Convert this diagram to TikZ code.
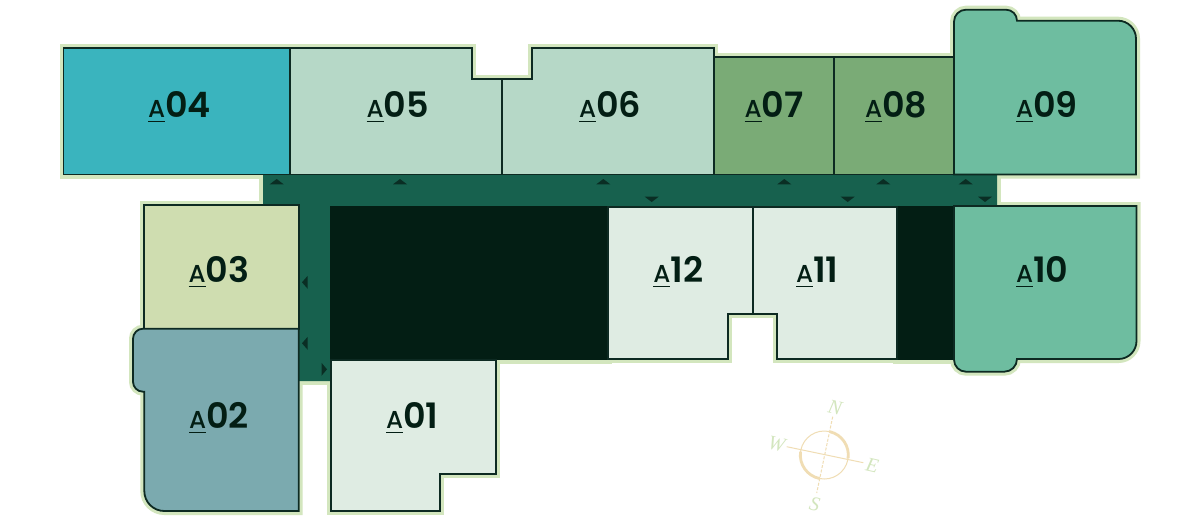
\documentclass[tikz,border=0pt]{standalone}
\usepackage{fontspec}
\setmainfont{Poppins}
\newfontfamily\numfont{Poppins SemiBold}
\newfontfamily\afont{Poppins Medium}
\newfontfamily\compfont{Liberation Serif}[Scale=1]
\definecolor{halo}{HTML}{D3E6BE}
\definecolor{ink}{HTML}{0D2A22}
\definecolor{deep}{HTML}{031E14}
\definecolor{corr}{HTML}{17614E}
\definecolor{ctri}{HTML}{0A2E24}
\definecolor{teal}{HTML}{3AB4BE}
\definecolor{mint}{HTML}{B6D8C7}
\definecolor{moss}{HTML}{7AAB76}
\definecolor{jade}{HTML}{6EBDA0}
\definecolor{sage}{HTML}{CFDDB0}
\definecolor{slate}{HTML}{7BAAAF}
\definecolor{pale}{HTML}{DFECE3}
\definecolor{sand}{HTML}{F0DDB4}
\newsavebox{\unitAbox}
\newcommand{\unitlabel}[1]{\sbox{\unitAbox}{\afont\fontsize{24.5}{25}\selectfont A}\rlap{\rule[-4.6pt]{\wd\unitAbox}{1pt}}\usebox{\unitAbox}{\numfont\fontsize{35}{36}\selectfont #1}}
\newcommand{\pAfour}{(63.5,47.7) -- (290,47.7) -- (290,174.5) -- (63.5,174.5) -- cycle}
\newcommand{\pAfive}{(290,47.7) -- (471.7,47.7) -- (471.7,79.3) -- (502,79.3) -- (502,174.5) -- (290,174.5) -- cycle}
\newcommand{\pAsix}{(502,79.3) -- (532.3,79.3) -- (532.3,47.7) -- (713.7,47.7) -- (713.7,174.5) -- (502,174.5) -- cycle}
\newcommand{\pAseven}{(713.7,57.3) -- (834,57.3) -- (834,174.5) -- (713.7,174.5) -- cycle}
\newcommand{\pAeight}{(834,57.3) -- (954,57.3) -- (954,174.5) -- (834,174.5) -- cycle}
\newcommand{\pAnine}{(954,174.5) -- (954,21.7) arc[start angle=180,end angle=90,radius=12pt] -- (1006,9.7) arc[start angle=90,end angle=0,radius=11pt] -- (1118,20.7) arc[start angle=90,end angle=0,radius=18pt] -- (1136,174.5) -- cycle}
\newcommand{\pAten}{(954,206) -- (1136.5,206) -- (1136.5,341) arc[start angle=0,end angle=-90,radius=18pt] -- (1017,359) arc[start angle=0,end angle=-90,radius=12.7pt] -- (966,371.7) arc[start angle=-90,end angle=-180,radius=12pt] -- cycle}
\newcommand{\pAeleven}{(752.7,207) -- (896.7,207) -- (896.7,359) -- (777.3,359) -- (777.3,313.7) -- (752.7,313.7) -- cycle}
\newcommand{\pAtwelve}{(608.3,207) -- (752.7,207) -- (752.7,313.7) -- (727.7,313.7) -- (727.7,359) -- (608.3,359) -- cycle}
\newcommand{\pAone}{(330.7,360) -- (496,360) -- (496,474) -- (440,474) -- (440,511) -- (330.7,511) -- cycle}
\newcommand{\pAtwo}{(298.7,328.7) -- (143,328.7) arc[start angle=90,end angle=180,radius=10pt] -- (133,381.7) arc[start angle=180,end angle=270,radius=10pt] -- (144.3,391.7) -- (144.3,491) arc[start angle=180,end angle=270,radius=20pt] -- (298.7,511) -- cycle}
\newcommand{\pAthree}{(144.3,205) -- (298.7,205) -- (298.7,328.7) -- (144.3,328.7) -- cycle}
\newcommand{\pCorr}{(263,175) -- (997,175) -- (997,206) -- (330,206) -- (330,381) -- (299,381) -- (299,206) -- (263,206) -- cycle}
\newcommand{\pDarkA}{(330,206) -- (608.3,206) -- (608.3,360) -- (330,360) -- cycle}
\newcommand{\pDarkB}{(896.7,206) -- (955,206) -- (955,359.7) -- (896.7,359.7) -- cycle}
\tikzset{
  x=1pt,y=-1pt,
  haloline/.style={draw=halo,line width=8pt,line join=miter},
  room/.style={draw=ink,line width=1.8pt,line join=miter},
  unit/.style={anchor=base west,inner sep=0pt,outer sep=0pt,text=deep},
  tri/.style={fill=ctri,draw=none},
  compassthin/.style={draw=sand,line width=1pt},
  compassthick/.style={draw=sand,line width=2.8pt},
  compasslabel/.style={text=halo,font=\compfont\itshape\fontsize{20}{20}\selectfont,inner sep=0pt,rotate=-13}
}
\begin{document}
\begin{tikzpicture}
\useasboundingbox (0,0) rectangle (1200,520);
\fill[white] (0,0) rectangle (1200,520);
% halo
\foreach \p in {\pAfour,\pAfive,\pAsix,\pAseven,\pAeight,\pAnine,\pAten,\pAeleven,\pAtwelve,\pAone,\pAtwo,\pAthree,\pCorr,\pDarkA,\pDarkB}{\path[haloline] \p;}
% corridor and dark blocks
\fill[corr] \pCorr;
\fill[deep] \pDarkA;
\fill[deep] \pDarkB;
% rooms
\path[room,fill=teal] \pAfour;
\path[room,fill=mint] \pAfive;
\path[room,fill=mint] \pAsix;
\path[room,fill=moss] \pAseven;
\path[room,fill=moss] \pAeight;
\path[room,fill=jade] \pAnine;
\path[room,fill=jade] \pAten;
\path[room,fill=pale] \pAeleven;
\path[room,fill=pale] \pAtwelve;
\path[room,fill=pale] \pAone;
\path[room,fill=sage] \pAthree;
\path[room,fill=slate] \pAtwo;
% door markers
\foreach \x in {276.7,400,603.3,784.3,883.3,965.7}{\fill[tri] (\x-7,184.3) -- (\x,179) -- (\x+7,184.3) -- cycle;}
\foreach \x in {651.7,847.7,985}{\fill[tri] (\x-7,196.7) -- (\x,202) -- (\x+7,196.7) -- cycle;}
\foreach \y in {282.3,343.3}{\fill[tri] (307.7,\y-6.5) -- (302,\y) -- (307.7,\y+6.5) -- cycle;}
\fill[tri] (321.5,362.8) -- (327,369.3) -- (321.5,375.8) -- cycle;
% labels
\node[unit] (a04) at (148,117.3) {\unitlabel{04}};
\node[unit] (a05) at (366.7,117.3) {\unitlabel{05}};
\node[unit] (a06) at (579,117.3) {\unitlabel{06}};
\node[unit] (a07) at (744.7,117.3) {\unitlabel{07}};
\node[unit] (a08) at (865,117.3) {\unitlabel{08}};
\node[unit] (a09) at (1016,117.3) {\unitlabel{09}};
\node[unit] (a10) at (1016,282) {\unitlabel{10}};
\node[unit] (a11) at (796,282) {\unitlabel{11}};
\node[unit] (a12) at (653.3,282) {\unitlabel{12}};
\node[unit] (a03) at (188.7,282) {\unitlabel{03}};
\node[unit] (a02) at (189,428) {\unitlabel{02}};
\node[unit] (a01) at (386,428) {\unitlabel{01}};
% compass
\coordinate (comp) at (824.3,455);
\coordinate (compN) at (832.7,416.7);
\coordinate (compS) at (816.7,493);
\coordinate (compW) at (786.7,446.7);
\coordinate (compE) at (863.3,462.7);
\draw[compassthin] (comp) circle[radius=24pt];
\draw[compassthick] (comp) ++(76:24pt) arc[start angle=76,end angle=-8,radius=24pt];
\draw[compassthick] (comp) ++(172:24pt) arc[start angle=172,end angle=259,radius=24pt];
\draw[compassthin,dash pattern=on 3pt off 1.5pt] (compN) -- (compS);
\draw[compassthin] (compW) -- (compE);
\node[compasslabel] (labN) at (835,407.3) {N};
\node[compasslabel] (labS) at (814.7,504) {S};
\node[compasslabel] (labW) at (776.7,444) {W};
\node[compasslabel] (labE) at (872.3,465) {E};
\end{tikzpicture}
\end{document}
